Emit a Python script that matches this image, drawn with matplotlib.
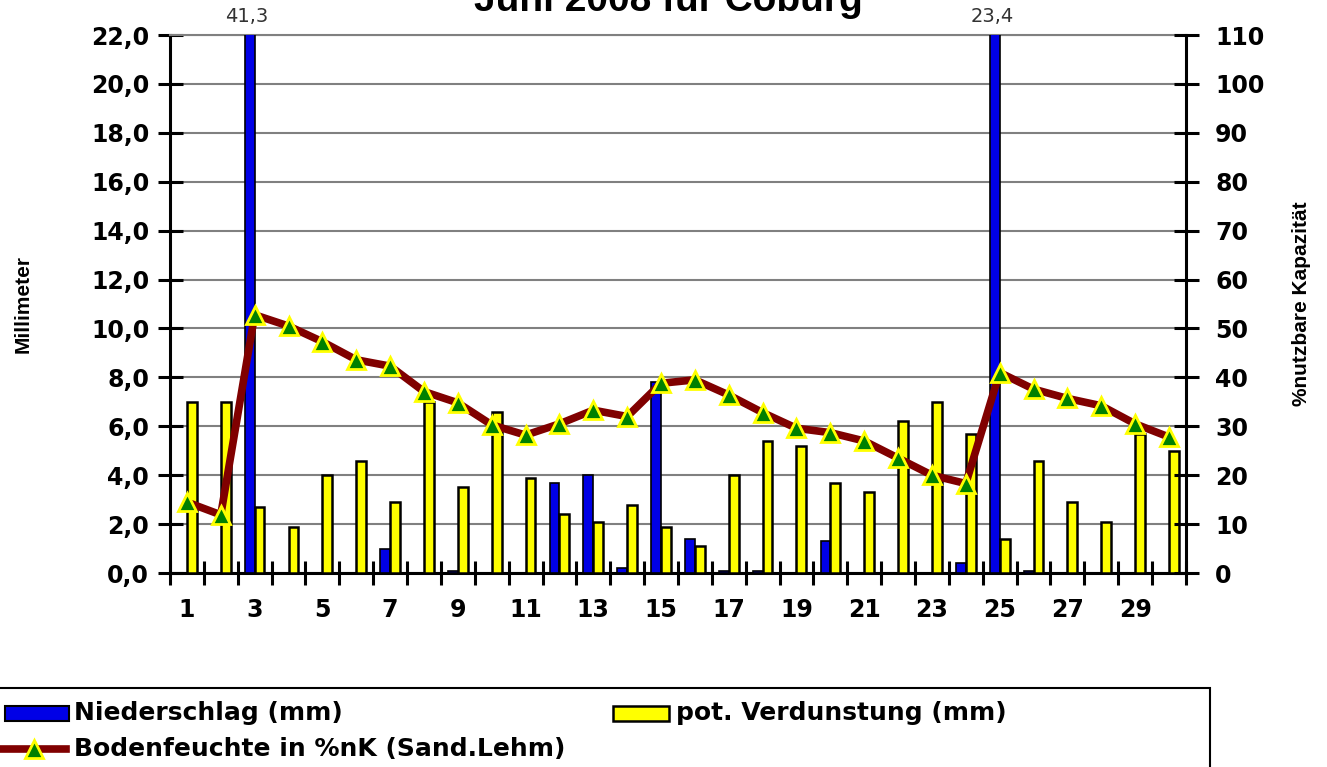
import matplotlib
matplotlib.use("Agg")
import matplotlib.pyplot as plt
import matplotlib.patches as patches
import matplotlib.lines as mlines
import numpy as np

plt.rcParams["font.family"] = ["DejaVu Sans"]

# Tageswerte Juni 2008, Coburg
days = list(range(1, 31))
niederschlag = [0.0, 0.0, 41.3, 0.0, 0.0, 0.0, 1.0, 0.0, 0.1, 0.0,
                0.0, 3.7, 4.0, 0.2, 7.8, 1.4, 0.1, 0.1, 0.0, 1.3,
                0.0, 0.0, 0.0, 0.4, 23.4, 0.1, 0.0, 0.0, 0.0, 0.0]
verdunstung = [7.0, 7.0, 2.7, 1.9, 4.0, 4.6, 2.9, 7.0, 3.5, 6.6,
               3.9, 2.4, 2.1, 2.8, 1.9, 1.1, 4.0, 5.4, 5.2, 3.7,
               3.3, 6.2, 7.0, 5.7, 1.4, 4.6, 2.9, 2.1, 5.7, 5.0]
bodenfeuchte = [14.5, 11.9, 52.8, 50.5, 47.3, 43.6, 42.3, 37.1, 34.8, 30.3,
                28.2, 30.5, 33.3, 32.0, 38.8, 39.5, 36.4, 32.8, 29.6, 28.7,
                27.0, 23.5, 20.0, 18.3, 41.0, 37.6, 35.7, 34.2, 30.5, 27.8]
x_labels = [str(d) for d in range(1, 30, 2)]
mm_ticks = np.arange(0, 22.1, 2)
pct_ticks = np.arange(0, 111, 10)

BLUE = "#0000e6"
YELLOW = "#ffff00"
RED = "#800000"
GREEN = "#008000"

fig = plt.figure(figsize=(13.27, 7.67), dpi=100)
ax = fig.add_axes([0.1281, 0.2529, 0.7656, 0.7014])

x = np.array(days)
bw = 0.29
ax.bar(x - bw / 2, niederschlag, width=bw, color=BLUE, edgecolor="black", linewidth=1.2, zorder=3)
ax.bar(x + bw / 2, verdunstung, width=bw, color=YELLOW, edgecolor="black", linewidth=1.8, zorder=3)

ax.set_xlim(0.5, 30.5)
ax.set_ylim(0, 22)

# Werte ueber dem Achsenende
for d, v in zip(days, niederschlag):
    if v > 22:
        ax.annotate(f"{v:.1f}".replace(".", ","), xy=(d - bw / 2, 22), xytext=(-2, 13),
                    textcoords="offset points", ha="center", va="center",
                    fontsize=14, color="#333333", annotation_clip=False)

ax.set_yticks(mm_ticks)
ax.set_yticklabels([f"{t:.1f}".replace(".", ",") for t in mm_ticks],
                   fontsize=17, fontweight="bold")
ax.set_xticks(np.arange(0.5, 31, 1))
ax.set_xticklabels([])
ax.set_xticks(range(1, 30, 2), minor=True)
ax.set_xticklabels(x_labels, minor=True, fontsize=17, fontweight="bold")
ax.tick_params(axis="x", which="major", direction="inout", length=17, width=2.2)
ax.tick_params(axis="x", which="minor", length=0, pad=18)
ax.tick_params(axis="y", direction="inout", length=18, width=2.2, pad=6)

ax.grid(axis="y", color="#808080", linewidth=1.5)
ax.set_axisbelow(True)
for s in ["left", "bottom", "right"]:
    ax.spines[s].set_linewidth(2.2)
ax.spines["top"].set_color("#808080")
ax.spines["top"].set_linewidth(1.5)

ax.set_ylabel("Millimeter", fontsize=15, fontweight="bold", family="Liberation Sans", labelpad=42)

# Bodenfeuchte auf der rechten Achse
ax2 = ax.twinx()
ax2.plot(x, bodenfeuchte, color=RED, linewidth=5.5, marker="^", markersize=13,
         markerfacecolor=GREEN, markeredgecolor=YELLOW, markeredgewidth=2, zorder=5)
ax2.set_ylim(0, 110)
ax2.set_yticks(pct_ticks)
ax2.set_yticklabels([str(t) for t in pct_ticks], fontsize=17, fontweight="bold")
ax2.tick_params(axis="y", direction="inout", length=18, width=2.2, pad=12)
for s in ax2.spines.values():
    s.set_visible(False)
ax2.set_ylabel("%nutzbare Kapazität", fontsize=15, fontweight="bold", family="Liberation Sans",
               labelpad=20)

fig.text(0.504, 1 - 11 / 767, "Juni 2008 für Coburg", ha="center", va="baseline",
         fontsize=28, fontweight="bold", family="Liberation Sans")

# Legende unten
W, H = 1327.0, 767.0
def fx(px):
    return px / W
def fy(py):
    return 1 - py / H

fig.add_artist(patches.Rectangle((fx(-2), fy(790)), fx(1212), (790 - 688) / H,
                                 transform=fig.transFigure, facecolor="white",
                                 edgecolor="black", linewidth=1.5, clip_on=False))
fig.add_artist(patches.Rectangle((fx(5), fy(721)), fx(64), 15 / H, transform=fig.transFigure,
                                 facecolor=BLUE, edgecolor="black", linewidth=1.5))
fig.add_artist(patches.Rectangle((fx(613), fy(721)), fx(56), 15 / H, transform=fig.transFigure,
                                 facecolor=YELLOW, edgecolor="black", linewidth=1.8))
fig.add_artist(mlines.Line2D([fx(2), fx(66)], [fy(749), fy(749)], transform=fig.transFigure,
                             color=RED, linewidth=5.5))
fig.add_artist(mlines.Line2D([fx(34)], [fy(749)], transform=fig.transFigure, marker="^",
                             markersize=13, markerfacecolor=GREEN, markeredgecolor=YELLOW,
                             markeredgewidth=2, linestyle="None"))
legend_font = dict(fontsize=18, fontweight="bold", va="center", ha="left")
fig.text(fx(74), fy(713), "Niederschlag (mm)", **legend_font)
fig.text(fx(676), fy(713), "pot. Verdunstung (mm)", **legend_font)
fig.text(fx(74), fy(749), "Bodenfeuchte in %nK (Sand.Lehm)", **legend_font)

fig.savefig("out.png", dpi=100, facecolor="white")
